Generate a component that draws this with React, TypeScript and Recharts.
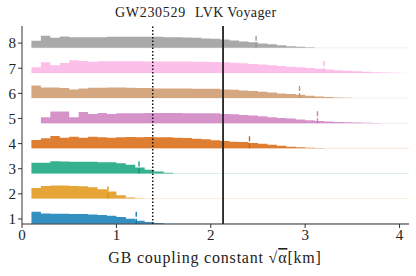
import React from 'react';
import { ComposedChart, Area, XAxis, YAxis, ReferenceLine } from 'recharts';

// left edges of the histogram bins (bin width 0.1 km)
const BIN_EDGES = [
  0.1, 0.2, 0.3, 0.4, 0.5, 0.6, 0.7, 0.8, 0.9, 1.0,
  1.1, 1.2, 1.3, 1.4, 1.5, 1.6, 1.7, 1.8, 1.9, 2.0,
  2.1, 2.2, 2.3, 2.4, 2.5, 2.6, 2.7, 2.8, 2.9, 3.0,
  3.1, 3.2, 3.3, 3.4, 3.5, 3.6, 3.7, 3.8, 3.9, 4.0, 4.1,
];

const ROW_TICKS = [1, 2, 3, 4, 5, 6, 7, 8];
const X_TICKS = [0, 1, 2, 3, 4];

// seaborn colorblind, one per row
const ROW_COLORS = ['#0173b2', '#de8f05', '#029e73', '#d55e00', '#cc78bc', '#ca9161', '#fbafe4', '#949494'];

// first bin of each row
const ROW_START = [0.1, 0.1, 0.1, 0.1, 0.2, 0.1, 0.1, 0.1];

// histogram heights (density, arbitrary units) per row
const row1 = [12, 10.3, 10, 10, 9.7, 9.7, 9.3, 8.7, 8, 6.7, 5, 3, 1.7, 0.7];
const row2 = [10.7, 12.7, 13, 13, 12.7, 12.3, 11.3, 9.3, 7, 3.3, 1, 0.3];
const row3 = [10.7, 10.7, 12.3, 12, 11.7, 11.7, 11.7, 11.3, 11.3, 10.3, 8.7, 6, 3.7, 2, 0.7];
const row4 = [
  8.3, 10, 12.3, 10.7, 11.7, 10.7, 11.7, 11, 10.7, 11, 11.3, 11, 11.3, 11, 11, 10.7,
  10.3, 9.7, 9, 8, 7.3, 6.7, 6.3, 5.3, 4.7, 3.7, 2.7, 1.7, 1, 0.6, 0.3,
];
const row5 = [
  6, 11.7, 11.7, 6, 11.3, 9.3, 10.3, 9.3, 10, 10, 10, 10.3, 10.3, 10.3, 10.3, 10, 10, 10, 10,
  9.3, 9, 8.3, 7.7, 7, 6, 5.3, 4.7, 3.7, 3, 2.3, 1.7, 1.3, 1, 0.7, 0.4, 0.2,
];
const row6 = [
  12.7, 10.7, 10.7, 10, 8.7, 9.7, 10.3, 10.3, 10.7, 10.7, 10.3, 10, 10, 9.7, 9.7, 9.7, 9.7, 9.3, 9.3, 9.3,
  8.7, 8.3, 7.7, 7, 6.3, 5.7, 4.7, 4, 3.3, 2.3, 1.7, 1, 0.7, 0.3, 0.2,
];
const row7 = [
  5.7, 10.7, 7.7, 10, 12.7, 12, 11.3, 11.7, 11.7, 11.7, 11.7, 11.7, 11.5, 11.5, 11.5, 11.5, 11.5, 11.3, 11.3, 11,
  10.7, 10.3, 9.7, 9, 8.5, 7.7, 7, 6.3, 5.7, 5, 4.3, 3.5, 2.8, 2.2, 1.7, 1.2, 0.8, 0.5, 0.2,
];
const row8 = [
  7, 12, 10, 11.3, 10.7, 10.7, 10.7, 10.7, 11, 11, 11, 11, 11, 11, 10.7, 10.7, 10.3, 10, 9.3, 9,
  8.3, 7.3, 6.3, 5.7, 4.3, 3.7, 2.7, 1.7, 1, 0.5, 0.2,
];
const ROWS = [row1, row2, row3, row4, row5, row6, row7, row8];

// short marker per row (x position in km)
const MARKS = [1.21, 0.91, 1.24, 2.41, 3.13, 2.94, 3.2, 2.48];

const DOTTED_X = 1.385;
const SOLID_X = 2.13;

const RIDGE_SCALE = 1 / 25.1;
const BASE_OFFSET = 0.19;
const MARK_HEIGHT = 0.5;

const baseOf = (r: number) => ROW_TICKS[r] - BASE_OFFSET;

const data = BIN_EDGES.map((x, i) => {
  const point: Record<string, any> = { x };
  ROWS.forEach((hs, r) => {
    const s = Math.round((ROW_START[r] - BIN_EDGES[0]) * 10);
    const base = baseOf(r);
    if (i < s) {
      point[`r${r}`] = null;
    } else {
      const h = hs[i - s] ?? 0;
      point[`r${r}`] = [base, base + h * RIDGE_SCALE];
    }
  });
  return point;
});

const FONT = 'Liberation Serif, DejaVu Serif, serif';
const tickStyle = { fill: '#222', fontSize: 15, style: { fontFamily: FONT } };

export default function App() {
  return (
    <div style={{ position: 'absolute', left: 0, top: 0, width: 416, height: 276, background: '#fff', fontFamily: FONT }}>
      <ComposedChart
        width={416}
        height={276}
        data={data}
        margin={{ top: 26, right: 7, bottom: 0, left: 0 }}
        style={{ fontFamily: FONT }}
      >
        <XAxis
          type="number"
          dataKey="x"
          domain={[0, 4.1]}
          ticks={X_TICKS}
          allowDataOverflow
          height={52}
          tickSize={4}
          tickMargin={1}
          stroke="#333"
          tick={tickStyle}
        />
        <XAxis xAxisId="top" orientation="top" type="number" domain={[0, 4.1]} tick={false} tickLine={false} height={0} stroke="#333" />
        <YAxis
          type="number"
          domain={[0.8, 8.68]}
          ticks={ROW_TICKS}
          allowDataOverflow
          width={22}
          tickSize={4}
          tickMargin={2}
          stroke="#333"
          tick={tickStyle}
        />
        <YAxis yAxisId="right" orientation="right" type="number" domain={[0.8, 8.68]} tick={false} tickLine={false} width={0} stroke="#333" />

        {ROWS.map((_, r) => (
          <ReferenceLine
            key={`base-${r}`}
            segment={[{ x: ROW_START[r], y: baseOf(r) }, { x: 4.1, y: baseOf(r) }]}
            stroke={ROW_COLORS[r]}
            strokeOpacity={0.15}
            strokeWidth={1}
          />
        ))}

        {ROWS.map((_, r) => (
          <Area
            key={`area-${r}`}
            dataKey={`r${r}`}
            type="stepAfter"
            fill={ROW_COLORS[r]}
            fillOpacity={0.8}
            stroke="none"
            isAnimationActive={false}
            dot={false}
            activeDot={false}
          />
        ))}

        {MARKS.map((m, r) => (
          <ReferenceLine
            key={`mark-${r}`}
            segment={[{ x: m, y: baseOf(r) }, { x: m, y: baseOf(r) + MARK_HEIGHT }]}
            stroke={ROW_COLORS[r]}
            strokeWidth={1.3}
            strokeDasharray="5 2"
          />
        ))}

        <ReferenceLine x={DOTTED_X} stroke="#111" strokeWidth={1.5} strokeDasharray="1.5 2" />
        <ReferenceLine x={SOLID_X} stroke="#222" strokeWidth={1.8} />
      </ComposedChart>

      <svg
        width={416}
        height={276}
        style={{ position: 'absolute', left: 0, top: 0, pointerEvents: 'none' }}
      >
        <text x={115} y={17} fontSize={14} style={{ fontFamily: FONT, letterSpacing: 0.7 }} fill="#222">GW230529</text>
        <text x={195} y={17} fontSize={14} style={{ fontFamily: FONT, letterSpacing: 0.4 }} fill="#222">LVK Voyager</text>
        <text x={215} y={263} textAnchor="middle" fontSize={16} style={{ fontFamily: FONT, letterSpacing: 0.8 }} fill="#222">
          GB coupling constant √<tspan style={{ textDecoration: 'overline' }}>α</tspan>[km]
        </text>
      </svg>
    </div>
  );
}
